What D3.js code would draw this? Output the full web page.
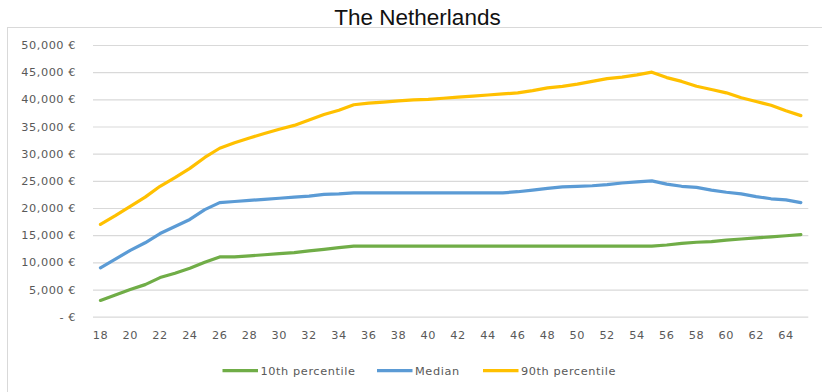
<!DOCTYPE html>
<html>
<head>
<meta charset="utf-8">
<script src="https://cdn.jsdelivr.net/npm/d3@7"></script>
<style>
  html, body { margin: 0; padding: 0; background: #fff; }
  svg { display: block; }
</style>
</head>
<body>
<svg id="chart" width="822" height="392"></svg>
<script>
// Gross annual income by age, the Netherlands
const ages = d3.range(18, 66);
const p10 = [3000, 4000, 5000, 5900, 7200, 8000, 8900, 10000, 11000, 11000,
  11200, 11400, 11600, 11800, 12100, 12400, 12700, 13000, 13000, 13000,
  13000, 13000, 13000, 13000, 13000, 13000, 13000, 13000, 13000, 13000,
  13000, 13000, 13000, 13000, 13000, 13000, 13000, 13000, 13200, 13500,
  13700, 13800, 14100, 14300, 14500, 14700, 14900, 15100];
const median = [9000, 10600, 12200, 13600, 15300, 16600, 17900, 19700, 21000, 21200,
  21400, 21600, 21800, 22000, 22200, 22500, 22600, 22800, 22800, 22800,
  22800, 22800, 22800, 22800, 22800, 22800, 22800, 22800, 23000, 23300,
  23600, 23900, 24000, 24100, 24300, 24600, 24800, 25000, 24400, 24000,
  23800, 23300, 22900, 22600, 22100, 21700, 21500, 21000];
const p90 = [17000, 18600, 20300, 22000, 24000, 25600, 27300, 29300, 31000, 32000,
  32900, 33700, 34500, 35200, 36200, 37200, 38000, 39000, 39300, 39500,
  39700, 39900, 40000, 40200, 40400, 40600, 40800, 41000, 41200, 41600,
  42100, 42400, 42800, 43300, 43800, 44100, 44500, 45000, 44000, 43300,
  42400, 41800, 41200, 40300, 39600, 38900, 37900, 37000];
const seriesNames = ["10th percentile", "Median", "90th percentile"];
const seriesColors = ["#70AD47", "#5B9BD5", "#FFC000"];
const yTicks = [0, 5000, 10000, 15000, 20000, 25000, 30000, 35000, 40000, 45000, 50000];
const xTickAges = ages.filter(a => a % 2 === 0);
const title = "The Netherlands";

const svg = d3.select("#chart");
const labelFont = "'DejaVu Sans', sans-serif";

// outer chart frame
svg.append("rect")
  .attr("x", 7.5).attr("y", 27.5)
  .attr("width", 830).attr("height", 400)
  .attr("fill", "none").attr("stroke", "#D9D9D9").attr("stroke-width", 1);

svg.append("text")
  .attr("x", 417.5).attr("y", 25)
  .attr("text-anchor", "middle")
  .attr("font-family", "'Liberation Sans', sans-serif")
  .attr("font-size", 22.5)
  .attr("fill", "#111")
  .text(title);

const x = d3.scaleBand().domain(ages).range([93, 808.3]).padding(0);
const cx = a => x(a) + x.bandwidth() / 2;
const y = d3.scaleLinear().domain([0, 50000]).range([316.7, 45]);

const fmt = v => v === 0 ? "- €" : d3.format(",")(v) + " €";

// horizontal gridlines with euro labels
const yAxis = d3.axisLeft(y).tickValues(yTicks).tickFormat(fmt)
  .tickSize(-(808.3 - 93)).tickPadding(17);
const gy = svg.append("g").attr("transform", "translate(93,0)").call(yAxis);
gy.select(".domain").remove();
gy.selectAll(".tick line").attr("stroke", "#D9D9D9").attr("stroke-width", 1.2);
gy.selectAll(".tick text")
  .attr("font-family", labelFont).attr("font-size", 11.3)
  .attr("letter-spacing", "0.55px")
  .attr("fill", "#595959");

// age labels on the category axis
const xAxis = d3.axisBottom(x).tickValues(xTickAges).tickSize(0).tickPadding(14);
const gx = svg.append("g").attr("transform", "translate(0,316.7)").call(xAxis);
gx.select(".domain").remove();
gx.selectAll(".tick text")
  .attr("font-family", labelFont).attr("font-size", 11.3)
  .attr("letter-spacing", "0.55px")
  .attr("fill", "#595959");

const line = d3.line().x((d, i) => cx(ages[i])).y(d => y(d));
[p10, median, p90].forEach((vals, k) => {
  svg.append("path")
    .datum(vals)
    .attr("d", line)
    .attr("fill", "none")
    .attr("stroke", seriesColors[k])
    .attr("stroke-width", 3.2)
    .attr("stroke-linejoin", "round")
    .attr("stroke-linecap", "round");
});

// legend
const legendX = [222.5, 377, 483];
const lg = svg.append("g");
seriesNames.forEach((name, k) => {
  lg.append("line")
    .attr("x1", legendX[k]).attr("x2", legendX[k] + 35.5)
    .attr("y1", 370.7).attr("y2", 370.7)
    .attr("stroke", seriesColors[k]).attr("stroke-width", 3.2);
  lg.append("text")
    .attr("x", legendX[k] + 38).attr("y", 370.7)
    .attr("dy", "0.35em")
    .attr("font-family", labelFont).attr("font-size", 11.3)
    .attr("letter-spacing", "0.6px")
    .attr("fill", "#595959")
    .text(name);
});
</script>
</body>
</html>
